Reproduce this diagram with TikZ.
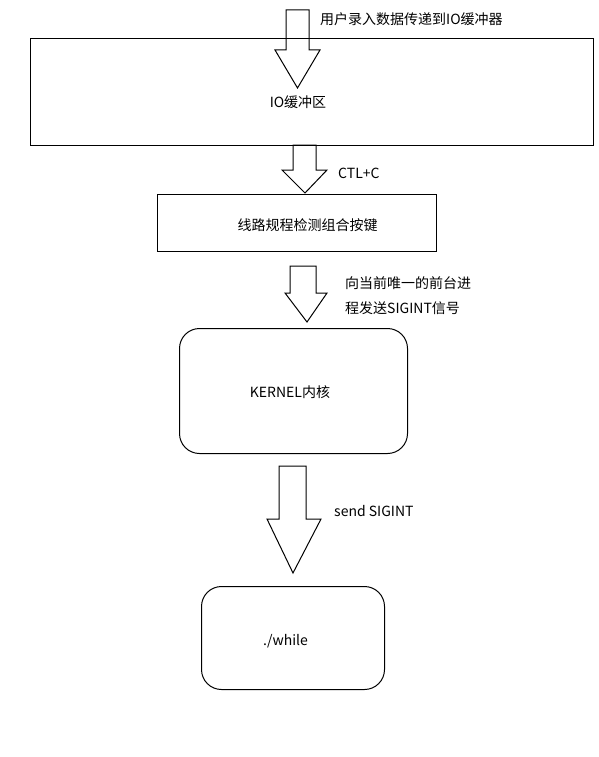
\documentclass[tikz,border=0pt]{standalone}
\usepackage{fontspec}
\setmainfont{Noto Sans CJK SC}
\begin{document}
\begin{tikzpicture}[x=1pt,y=-1pt,
  box/.style={draw=black,line width=1pt,inner sep=0pt,anchor=north west},
  rbox/.style={box,rounded corners=20pt},
  barrow/.style={draw=black,line width=1pt,line join=miter},
  txt/.style={inner sep=0pt,font=\fontsize{14}{17}\selectfont}]
\useasboundingbox (0,0) rectangle (599,757);
% boxes
\node[box,minimum width=563pt,minimum height=107pt] (io) at (30,38) {};
\node[box,minimum width=279pt,minimum height=57pt] (line) at (157,194) {};
\node[rbox,minimum width=228pt,minimum height=125pt] (kern) at (179,328) {};
\node[rbox,minimum width=183pt,minimum height=103pt] (while) at (201,586) {};
% texts
\node[txt] (tio) at (298,102) {IO缓冲区};
\node[txt] (tline) at (307.5,225) {线路规程检测组合按键};
\node[txt] (tkern) at (290,392) {KERNEL内核};
\node[txt] (twhile) at (285.5,641) {./while};
\node[txt,anchor=west] (l1) at (320,19) {用户录入数据传递到IO缓冲器};
\node[txt,anchor=west] (l2) at (338,173) {CTL+C};
\node[txt,anchor=west] (l3a) at (345,283) {向当前唯一的前台进};
\node[txt,anchor=west] (l3b) at (345,308) {程发送SIGINT信号};
\node[txt,anchor=west] (l4) at (334,511) {send SIGINT};
% block arrows
\draw[barrow] (286,10) -- (309,10) -- (309,50) -- (320,50) -- (297.5,88) -- (275,50) -- (286,50) -- cycle;
\draw[barrow] (293,145) -- (316,145) -- (316,170) -- (327,170) -- (305,193) -- (282,170) -- (293,170) -- cycle;
\draw[barrow] (290,266) -- (316,266) -- (316,293) -- (327,293) -- (307,322) -- (285,293) -- (290,293) -- cycle;
\draw[barrow] (279,466) -- (306,466) -- (306,519) -- (321,519) -- (293,573) -- (267,519) -- (279,519) -- cycle;
\end{tikzpicture}
\end{document}
